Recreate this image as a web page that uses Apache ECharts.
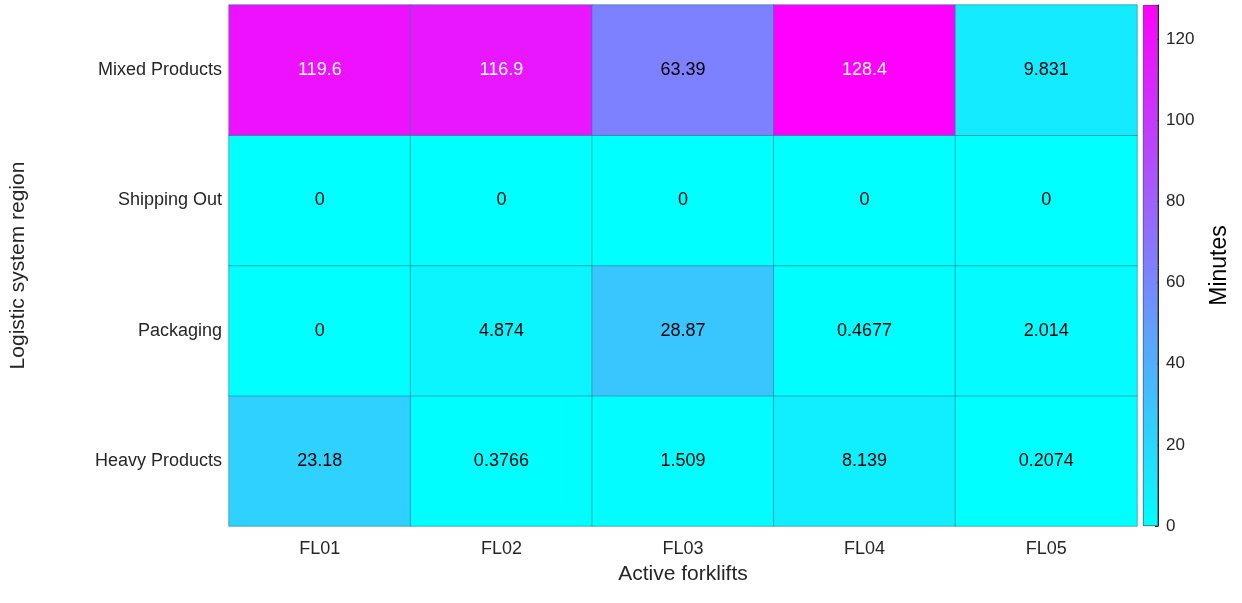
<!DOCTYPE html>
<html lang="en">
<head>
<meta charset="UTF-8">
<title>forklift heatmap</title>
<script src="https://cdn.jsdelivr.net/npm/echarts@6/dist/echarts.min.js"></script>
<style>html,body{margin:0;background:#fff}</style>
</head>
<body>
<div id="main" style="width:1242px;height:603px;"></div>
<script>
// forklifts (x) and regions (y, bottom to top)
var forklifts = ['FL01', 'FL02', 'FL03', 'FL04', 'FL05'];
var regions = ['Heavy Products', 'Packaging', 'Shipping Out', 'Mixed Products'];
var heavyProducts = [23.18, 0.3766, 1.509, 8.139, 0.2074];
var packaging = [0, 4.874, 28.87, 0.4677, 2.014];
var shippingOut = [0, 0, 0, 0, 0];
var mixedProducts = [119.6, 116.9, 63.39, 128.4, 9.831];
var colorTicks = [0, 20, 40, 60, 80, 100, 120];

var rows = [heavyProducts, packaging, shippingOut, mixedProducts];
var vmax = 128.4;
var cells = [];
rows.forEach(function (row, yi) {
    row.forEach(function (v, xi) {
        cells.push({
            value: [xi, yi, v],
            label: { color: v > 100 ? '#fff' : '#000' }
        });
    });
});

function fmt(v) { return String(Number(v.toPrecision(4))); }

var font = 'Liberation Sans, Arial, sans-serif';
var chart = echarts.init(document.getElementById('main'));
chart.setOption({
    animation: false,
    grid: [
        { left: 227, right: 105, top: 5, bottom: 77 },
        { left: 1143, width: 15, top: 5, bottom: 77 }
    ],
    xAxis: [{
        type: 'category', data: forklifts, gridIndex: 0,
        name: 'Active forklifts', nameLocation: 'middle', nameGap: 38,
        nameTextStyle: { fontSize: 21, fontFamily: font, color: '#262626' },
        axisTick: { show: false }, axisLine: { show: false },
        axisLabel: { fontSize: 18, fontFamily: font, color: '#262626', margin: 14 }
    }, {
        type: 'category', data: ['c'], gridIndex: 1, show: false
    }],
    yAxis: [{
        type: 'category', data: regions, gridIndex: 0,
        name: 'Logistic system region', nameLocation: 'middle', nameGap: 200,
        nameTextStyle: { fontSize: 21, fontFamily: font, color: '#262626' },
        axisTick: { show: false }, axisLine: { show: false },
        axisLabel: { fontSize: 18, fontFamily: font, color: '#262626', margin: 7 }
    }, {
        type: 'value', gridIndex: 1, position: 'right', min: 0, max: vmax, interval: 20,
        name: 'Minutes', nameLocation: 'middle', nameGap: 50, nameRotate: 90,
        nameTextStyle: { fontSize: 23, fontFamily: font, color: '#000' },
        axisLine: { show: true, lineStyle: { color: '#262626', width: 1 } },
        axisTick: { show: true, inside: true, length: 3, lineStyle: { color: '#262626' } },
        splitLine: { show: false },
        axisLabel: { fontSize: 17, fontFamily: font, color: '#262626', margin: 8,
            customValues: colorTicks }
    }],
    visualMap: {
        show: false, min: 0, max: vmax, dimension: 2, seriesIndex: 0,
        inRange: { color: ['#00ffff', '#ff00ff'] }
    },
    series: [{
        type: 'heatmap', data: cells, xAxisIndex: 0, yAxisIndex: 0,
        itemStyle: { borderColor: '#2a7f8f', borderWidth: 0.6 },
        label: { show: true, fontSize: 18, fontFamily: font,
            formatter: function (p) { return fmt(p.value[2]); } }
    }, {
        type: 'bar', data: [vmax], xAxisIndex: 1, yAxisIndex: 1, barWidth: '100%',
        itemStyle: {
            borderColor: '#262626', borderWidth: 0.6,
            color: new echarts.graphic.LinearGradient(0, 1, 0, 0, [
                { offset: 0, color: '#00ffff' }, { offset: 1, color: '#ff00ff' }
            ])
        }
    }]
});
</script>
</body>
</html>
